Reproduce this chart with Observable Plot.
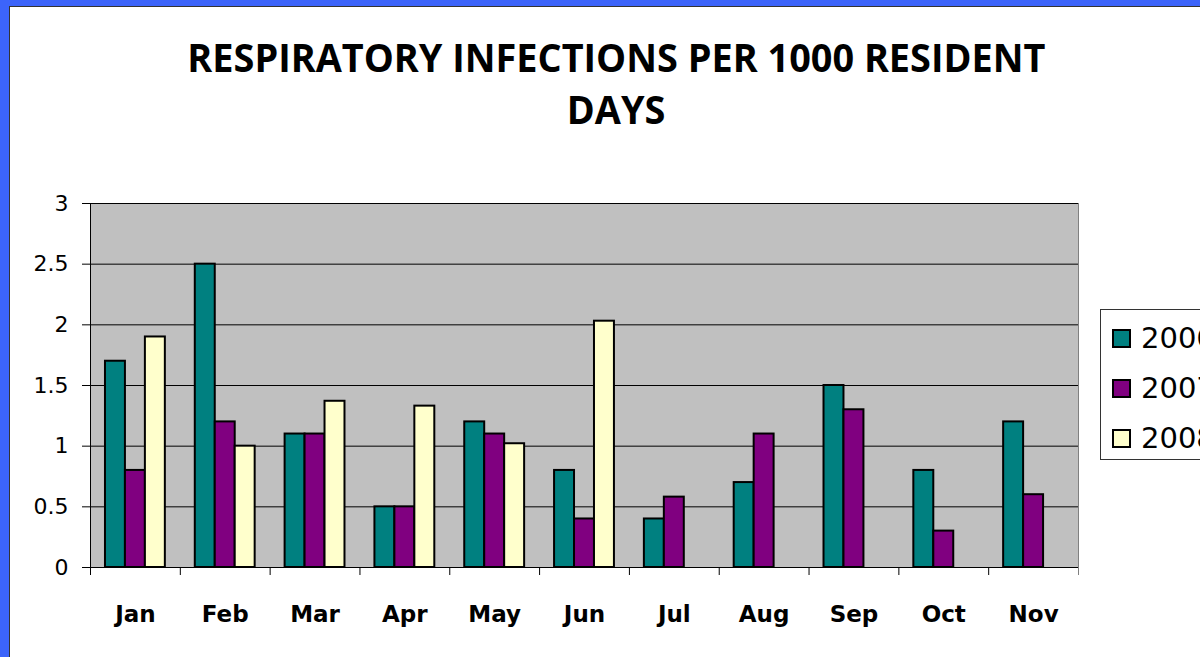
<!DOCTYPE html>
<html>
<head>
<meta charset="utf-8">
<script src="https://cdn.jsdelivr.net/npm/d3@7"></script>
<script src="https://cdn.jsdelivr.net/npm/@observablehq/plot@0.6"></script>
<style>
  html, body { margin: 0; padding: 0; }
  body { width: 1200px; height: 657px; overflow: hidden; background: #3c64fa; position: relative; font-family: "DejaVu Sans", sans-serif; }
  #panel { position: absolute; left: 9px; top: 6px; width: 1191px; height: 651px; background: #fff; border-left: 1px solid #333; border-top: 1px solid #333; box-sizing: border-box; }
  .tl { position: absolute; left: 0; width: 1232px; text-align: center; font: bold 40px/40px "Open Sans", "DejaVu Sans", sans-serif; color: #000; white-space: nowrap; }
  .tl span { display: inline-block; transform-origin: center; }
  #chart { position: absolute; left: 0; top: 160px; }
  #legend { position: absolute; left: 1100px; top: 309px; width: 140px; height: 151px; border: 1px solid #333; background: #fff; box-sizing: border-box; }
  .li { position: absolute; left: 11px; height: 30px; display: flex; align-items: center; font: 29px "DejaVu Sans", sans-serif; color: #000; }
  .sw { width: 19px; height: 19px; border: 2px solid #000; box-sizing: border-box; margin-right: 10px; }
</style>
</head>
<body>
<div id="panel"></div>
<div class="tl" style="top:37px"><span id="t1">RESPIRATORY INFECTIONS PER 1000 RESIDENT</span></div>
<div class="tl" style="top:89px"><span id="t2">DAYS</span></div>
<div id="chart"></div>
<div id="legend"></div>
<script>
const months = ["Jan", "Feb", "Mar", "Apr", "May", "Jun", "Jul", "Aug", "Sep", "Oct", "Nov"];
const years = ["2006", "2007", "2008"];
const v2006 = [1.7, 2.5, 1.1, 0.5, 1.2, 0.8, 0.4, 0.7, 1.5, 0.8, 1.2];
const v2007 = [0.8, 1.2, 1.1, 0.5, 1.1, 0.4, 0.58, 1.1, 1.3, 0.3, 0.6];
const v2008 = [1.9, 1.0, 1.37, 1.33, 1.02, 2.03, null, null, null, null, null];
const colors = ["#008080", "#800080", "#ffffcc"];
const yTicks = [0, 0.5, 1, 1.5, 2, 2.5, 3];

// title scaling to match the reference's condensed bold face
const t1 = document.getElementById("t1"), t2 = document.getElementById("t2");
const sx = 858 / t1.getBoundingClientRect().width;
t1.style.transform = `scaleX(${sx})`;
t2.style.transform = `scaleX(${sx})`;

const rows = months.map((m, i) => ({month: m, "2006": v2006[i], "2007": v2007[i], "2008": v2008[i]}));

const W = 1200, H = 497, mL = 90, mR = 122, mT = 43, mB = 90;
const step = (W - mL - mR) / months.length;
const bw = step * 2 / 9;
const inset = (step - bw) / 2;

const chart = Plot.plot({
  width: W, height: H,
  marginLeft: mL, marginRight: mR, marginTop: mT, marginBottom: mB,
  x: {domain: months, padding: 0, round: false, axis: null, label: null},
  y: {domain: [0, 3], axis: null, label: null},
  style: {background: "transparent", fontFamily: "DejaVu Sans, sans-serif", color: "#000", overflow: "visible"},
  marks: [
    Plot.frame({fill: "#c0c0c0", stroke: "#808080"}),
    Plot.gridY(yTicks, {stroke: "#000", strokeOpacity: 1}),
    Plot.ruleX([months[0]], {x: d => d, y1: 3, y2: 0, dx: -step / 2, insetBottom: -8, stroke: "#000"}),
    Plot.ruleX(months.slice(1), {x: d => d, y1: 0, y2: 0, dx: -step / 2, insetBottom: -8, stroke: "#000"}),
    Plot.ruleX([months[months.length - 1]], {x: d => d, y1: 0, y2: 0, dx: step / 2, insetBottom: -8, stroke: "#808080"}),
    ...years.map((yr, k) => Plot.barY(rows, {
      x: "month", y: yr, fill: colors[k], stroke: "#000", strokeWidth: 2,
      insetLeft: inset, insetRight: inset, dx: (k - 1) * bw
    })),
    Plot.axisY(yTicks, {tickSize: 8, tickPadding: 14, fontSize: 22, stroke: "#000", tickFormat: d => String(d), label: null}),
    Plot.axisX(months, {tickSize: 0, tickPadding: 38, fontSize: 23, fontWeight: "bold", label: null})
  ]
});
document.getElementById("chart").appendChild(chart);

const legend = document.getElementById("legend");
years.forEach((yr, k) => {
  const item = document.createElement("div");
  item.className = "li";
  item.style.top = (13 + k * 50) + "px";
  const sw = document.createElement("div");
  sw.className = "sw";
  sw.style.background = colors[k];
  item.appendChild(sw);
  item.appendChild(document.createTextNode(yr));
  legend.appendChild(item);
});
</script>
</body>
</html>
